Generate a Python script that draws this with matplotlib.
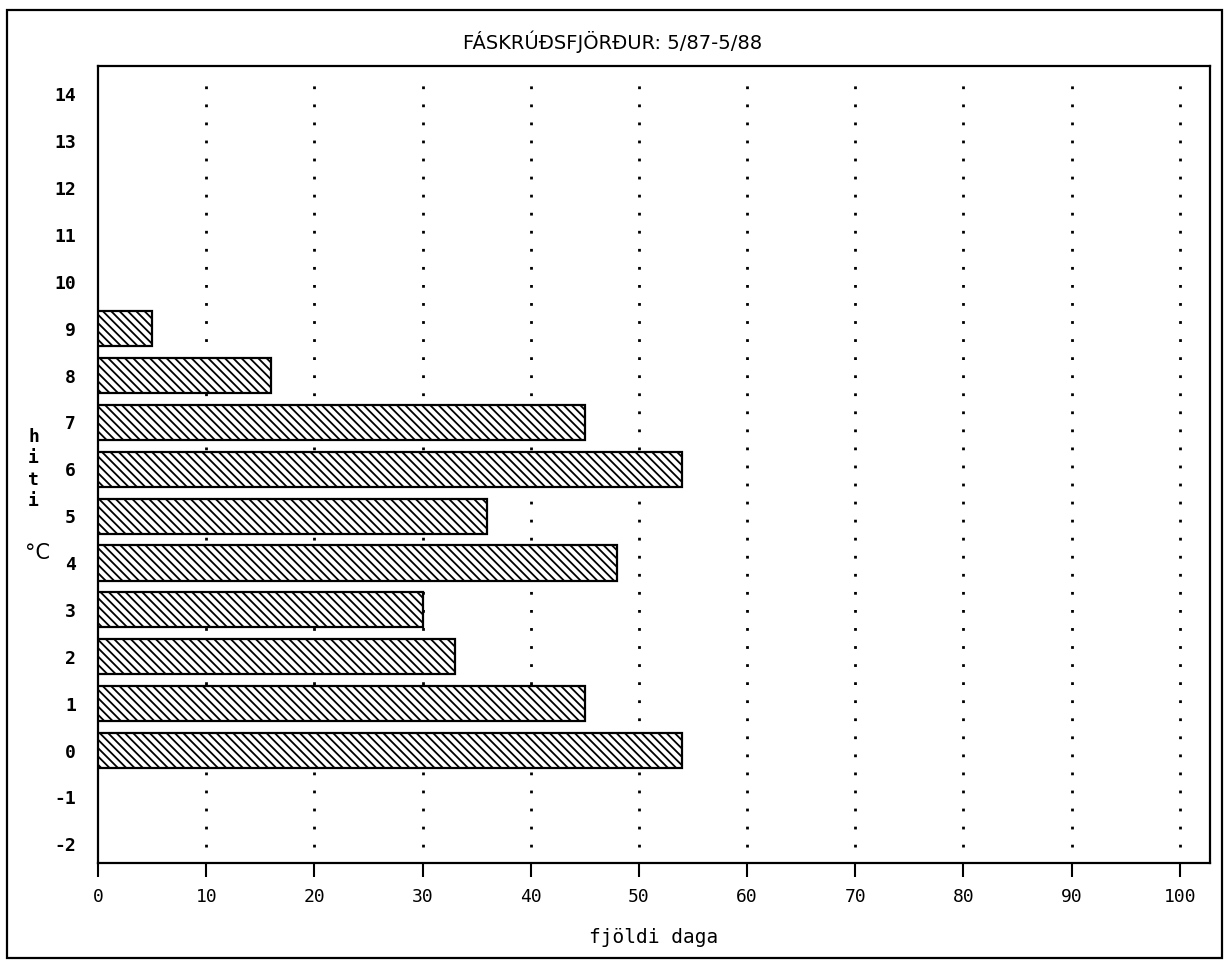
import matplotlib.pyplot as plt
from matplotlib.patches import Rectangle

# data
temp = [0, 1, 2, 3, 4, 5, 6, 7, 8, 9]
days = [54, 45, 33, 30, 48, 36, 54, 45, 16, 5]
yticks = list(range(-2, 15))
xticks = list(range(0, 101, 10))

plt.rcParams['font.family'] = ['DejaVu Sans Mono', 'DejaVu Sans']
plt.rcParams['hatch.linewidth'] = 1.3
plt.rcParams['axes.unicode_minus'] = False

fig = plt.figure(figsize=(12.26, 9.61), dpi=100)
ax = fig.add_axes([0.080, 0.102, 0.907, 0.829])

ax.barh(temp, days, height=0.75, color='white', edgecolor='black',
        hatch='\\\\\\\\', linewidth=1.6, zorder=3)

ax.set_xlim(0, 102.8)
ax.set_ylim(-2.4, 14.6)
ax.set_xticks(xticks)
ax.set_yticks(yticks)
ax.tick_params(axis='x', direction='out', length=10, width=1.5, pad=8, labelsize=13)
ax.tick_params(axis='y', length=0, pad=16, labelsize=13)
for lab in ax.get_yticklabels():
    lab.set_fontweight('bold')

# dotted verticals
for x in xticks[1:]:
    ax.plot([x, x], [-2.05, 14.35], color='black', linestyle=(0, (1, 5.5)),
            linewidth=2, zorder=1)
for s in ax.spines.values():
    s.set_linewidth(1.6)

ax.set_xlabel("fjöldi daga", fontsize=14, labelpad=16)
fig.text(0.023, 0.555, "h\ni\nt\ni", fontsize=13, fontweight='bold',
         ha='left', va='top', linespacing=1.25)
fig.text(0.020, 0.425, "°C", fontsize=15, ha='left', va='center',
         family='DejaVu Sans')
fig.text(0.5, 0.957, "FÁSKRÚÐSFJÖRÐUR: 5/87-5/88", fontsize=14,
         ha='center', va='center', family='DejaVu Sans')

# outer frame
fig.patches.append(Rectangle((0.006, 0.003), 0.991, 0.987, transform=fig.transFigure,
                             fill=False, edgecolor='black', linewidth=1.6))

fig.savefig("out.png", dpi=100)
